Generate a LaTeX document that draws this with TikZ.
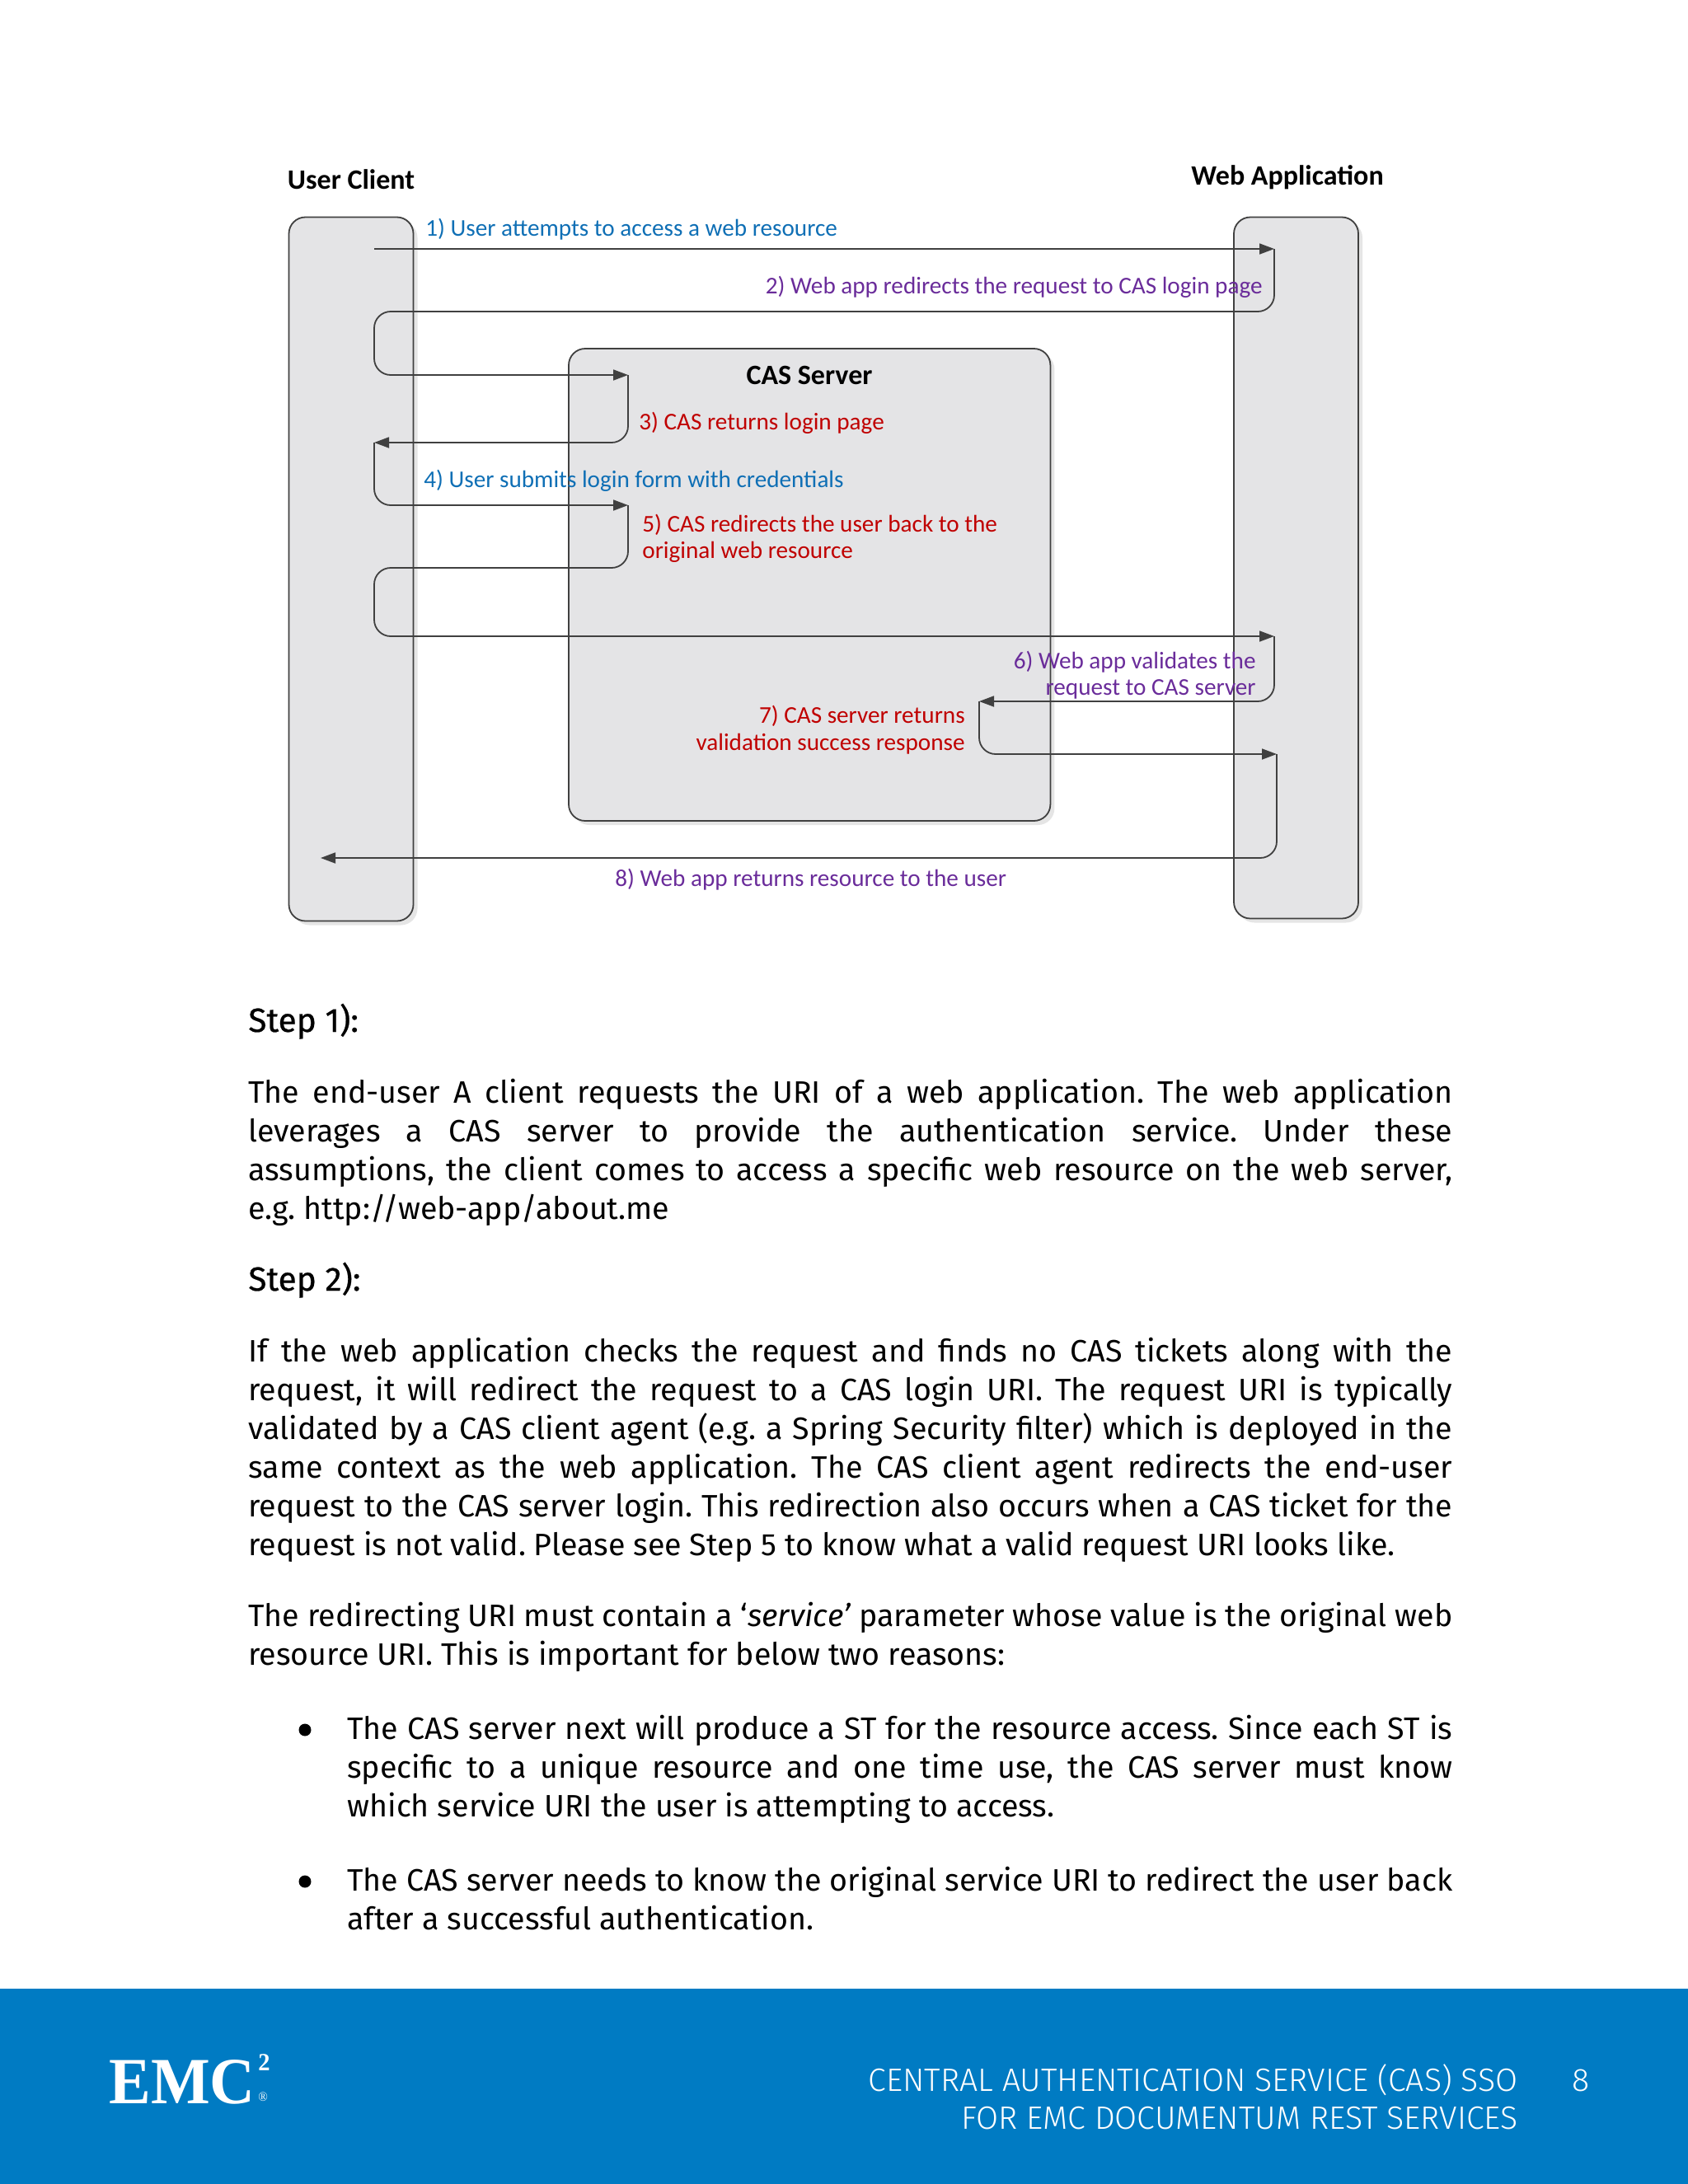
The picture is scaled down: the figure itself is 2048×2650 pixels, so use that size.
\documentclass[tikz,border=0pt]{standalone}
\usepackage{fontspec}
\setmainfont{Fira Sans}
\newfontfamily\labelfont{Carlito}
\newfontfamily\logofont[FakeStretch=.95]{Liberation Serif}
\newfontfamily\headfont[FakeBold=0.6]{Fira Sans}
\newfontfamily\footfont{Fira Sans Light}
\usetikzlibrary{arrows.meta,shadows}
\definecolor{lanefill}{HTML}{E4E4E6}
\definecolor{flowline}{HTML}{404040}
\definecolor{bluetext}{HTML}{0F6FB5}
\definecolor{purpletext}{HTML}{6A2C9A}
\definecolor{redtext}{HTML}{C00000}
\definecolor{footerblue}{HTML}{007BC3}
\newcommand{\fullline}[1]{\makebox[730.5pt][s]{#1}}
\newcommand{\indentline}[1]{\makebox[670.5pt][s]{#1}}
\tikzset{
  lane/.style={draw=flowline,fill=lanefill,line width=.9pt,rounded corners=10pt,inner sep=0,outer sep=0,
    drop shadow={shadow xshift=2.5pt,shadow yshift=-2.5pt,opacity=.1,fill=black}},
  flow/.style={draw=flowline,line width=.9pt,rounded corners=10pt},
  tipped/.style={-{Triangle[length=9pt,width=6.5pt]}},
  title/.style={font=\labelfont\bfseries\fontsize{17}{17}\selectfont,inner sep=0},
  msg/.style={font=\labelfont\fontsize{14.6}{16}\selectfont,inner sep=0,anchor=base west},
  msgr/.style={font=\labelfont\fontsize{14.6}{16}\selectfont,inner sep=0,anchor=base east},
  body/.style={font=\fontsize{18.8}{23.5}\selectfont\frenchspacing,inner sep=0,anchor=base west},
  head/.style={font=\headfont\fontsize{20.3}{23.5}\selectfont,inner sep=0,anchor=base west},
  dot/.style={circle,fill=black,inner sep=0,minimum size=7.5pt},
  foot/.style={font=\footfont\fontsize{19.6}{23.5}\selectfont,inner sep=0,text=white},
}
\begin{document}
\begin{tikzpicture}[x=.5pt,y=-.5pt]
\useasboundingbox (0,0) rectangle (2048,2650);
\fill[footerblue] (0,2413) rectangle (2048,2650);
% lanes
\node[lane,minimum width=75.5pt,minimum height=427pt] (client) at (426,690.5) {};
\node[lane,minimum width=75.5pt,minimum height=425.5pt] (webapp) at (1572.5,689) {};
\node[lane,minimum width=292.2pt,minimum height=286.5pt] (casserver) at (982.2,709.5) {};
% bend points
\coordinate (c1) at (454,302);
\coordinate (w1) at (1546,302);
\coordinate (w1b) at (1546,378);
\coordinate (c2t) at (454,378);
\coordinate (c2b) at (454,455);
\coordinate (s1) at (762,455);
\coordinate (s1b) at (762,537);
\coordinate (c3) at (454,537);
\coordinate (c3b) at (454,613);
\coordinate (s2) at (762,613);
\coordinate (s2b) at (762,689);
\coordinate (c4t) at (454,689);
\coordinate (c4b) at (454,772);
\coordinate (w2) at (1546,772);
\coordinate (w2b) at (1546,851);
\coordinate (s3) at (1188,851);
\coordinate (s3b) at (1188,915);
\coordinate (w3) at (1549,915);
\coordinate (w3b) at (1549,1041);
\coordinate (c5) at (389,1041);
% flows
\draw[flow,tipped] (c1)--(w1);
\draw[flow,tipped] (w1)--(w1b)--(c2t)--(c2b)--(s1);
\draw[flow,tipped] (s1)--(s1b)--(c3);
\draw[flow,tipped] (c3)--(c3b)--(s2);
\draw[flow,tipped] (s2)--(s2b)--(c4t)--(c4b)--(w2);
\draw[flow,tipped] (w2)--(w2b)--(s3);
\draw[flow,tipped] (s3)--(s3b)--(w3);
\draw[flow,tipped] (w3)--(w3b)--(c5);
% titles
\node[title] (clienttitle) at (426,218) {User Client};
\node[title] (webtitle) at (1562,215) {Web Application};
\node[title] (castitle) at (982,455) {CAS Server};
% messages
\node[msg,text=bluetext] (m1) at (516,286) {1) User attempts to access a web resource};
\node[msgr,text=purpletext] (m2) at (1532,356) {2) Web app redirects the request to CAS login page};
\node[msg,text=redtext] (m3) at (775,521) {3) CAS returns login page};
\node[msg,text=bluetext] (m4) at (514,591) {4) User submits login form with credentials};
\node[msg,text=redtext] (m5a) at (779,645) {5) CAS redirects the user back to the};
\node[msg,text=redtext] (m5b) at (779,677) {original web resource};
\node[msgr,text=purpletext] (m6a) at (1524,811) {6) Web app validates the};
\node[msgr,text=purpletext] (m6b) at (1524,843) {request to CAS server};
\node[msgr,text=redtext] (m7a) at (1171,877) {7) CAS server returns};
\node[msgr,text=redtext] (m7b) at (1171,910) {validation success response};
\node[msg,text=purpletext] (m8) at (746,1075) {8) Web app returns resource to the user};
% text
\node[head] (step1) at (301,1252) {Step 1):};
\node[body] (p1a) at (301,1338) {\fullline{The end-user A client requests the URI of a web application. The web application}};
\node[body] (p1b) at (301,1385) {\fullline{leverages a CAS server to provide the authentication service. Under these}};
\node[body] (p1c) at (301,1432) {\fullline{assumptions, the client comes to access a specific web resource on the web server,}};
\node[body] (p1d) at (301,1479) {e.g. http://web-app/about.me};
\node[head] (step2) at (301,1566) {Step 2):};
\node[body] (p2a) at (301,1652) {\fullline{If the web application checks the request and finds no CAS tickets along with the}};
\node[body] (p2b) at (301,1699) {\fullline{request, it will redirect the request to a CAS login URI. The request URI is typically}};
\node[body] (p2c) at (301,1746) {\fullline{validated by a CAS client agent (e.g. a Spring Security filter) which is deployed in the}};
\node[body] (p2d) at (301,1793) {\fullline{same context as the web application. The CAS client agent redirects the end-user}};
\node[body] (p2e) at (301,1840) {\fullline{request to the CAS server login. This redirection also occurs when a CAS ticket for the}};
\node[body] (p2f) at (301,1887) {request is not valid. Please see Step 5 to know what a valid request URI looks like.};
\node[body] (p3a) at (301,1973) {\fullline{The redirecting URI must contain a ‘\textit{service’} parameter whose value is the original web}};
\node[body] (p3b) at (301,2020) {resource URI. This is important for below two reasons:};
\node[dot] (b1) at (370,2099) {};
\node[body] (p4a) at (421,2110) {\indentline{The CAS server next will produce a ST for the resource access. Since each ST is}};
\node[body] (p4b) at (421,2157) {\indentline{specific to a unique resource and one time use, the CAS server must know}};
\node[body] (p4c) at (421,2204) {which service URI the user is attempting to access.};
\node[dot] (b2) at (370,2283) {};
\node[body] (p5a) at (421,2294) {\indentline{The CAS server needs to know the original service URI to redirect the user back}};
\node[body] (p5b) at (421,2341) {after a successful authentication.};
% footer
\node[inner sep=0,anchor=base west,text=white,font=\logofont\bfseries\fontsize{40}{40}\selectfont] (logo) at (132,2552) {EMC};
\node[inner sep=0,anchor=base west,text=white,font=\logofont\bfseries\fontsize{15}{15}\selectfont] (logotwo) at (313,2512) {2};
\node[inner sep=0,anchor=base west,text=white,font=\logofont\fontsize{8}{8}\selectfont] (logoreg) at (313,2549) {®};
\node[foot,anchor=base east] (f1) at (1842,2537) {CENTRAL AUTHENTICATION SERVICE (CAS) SSO};
\node[foot,anchor=base east] (f2) at (1842,2583) {FOR EMC DOCUMENTUM REST SERVICES};
\node[foot,anchor=base] (pagenum) at (1918,2537) {8};
\end{tikzpicture}
\end{document}
